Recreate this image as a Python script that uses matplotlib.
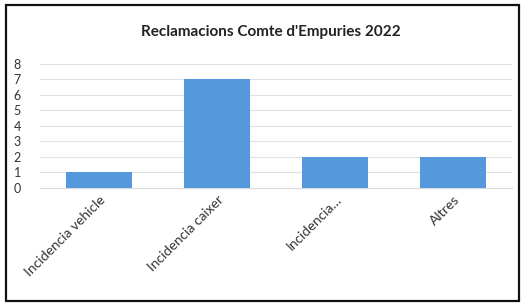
import matplotlib.pyplot as plt
from matplotlib.patches import Rectangle

categories = ["Incidencia vehicle", "Incidencia caixer", "Incidencia\u2026", "Altres"]
values = [1, 7, 2, 2]
yticks = [0, 1, 2, 3, 4, 5, 6, 7, 8]

plt.rcParams['font.family'] = ['Lato', 'DejaVu Sans']

fig = plt.figure(figsize=(5.22, 3.07), dpi=100)
ax = fig.add_axes([0.077, 0.388, 0.904, 0.404])

x = range(len(categories))
ax.bar(x, values, width=0.56, color='#5599DD', zorder=3)

ax.set_xlim(-0.5, 3.5)
ax.set_ylim(0, 8)
ax.set_yticks(yticks)
ax.set_yticklabels([str(t) for t in yticks], fontsize=9, color='#333333')
ax.grid(axis='y', color='#e0e0e0', linewidth=0.8, zorder=0)
ax.tick_params(axis='y', length=0, pad=14)
ax.tick_params(axis='x', length=0, pad=4)
ax.set_xticks(list(x))
ax.set_xticklabels(categories, rotation=45, ha='right', rotation_mode='anchor',
                   fontsize=10, color='#333333')
for s in ['top', 'right', 'left']:
    ax.spines[s].set_visible(False)
ax.spines['bottom'].set_color('#d9d9d9')

fig.text(0.518, 0.895, "Reclamacions Comte d'Empuries 2022", ha='center', va='center',
         fontsize=11, fontweight='bold', color='#222222')

# frame around the chart
fig.patches.append(Rectangle((0.011, 0.02), 0.983, 0.963, transform=fig.transFigure,
                             fill=False, edgecolor='#111111', linewidth=1.6))

fig.savefig('out.png', dpi=100)
plt.close(fig)
